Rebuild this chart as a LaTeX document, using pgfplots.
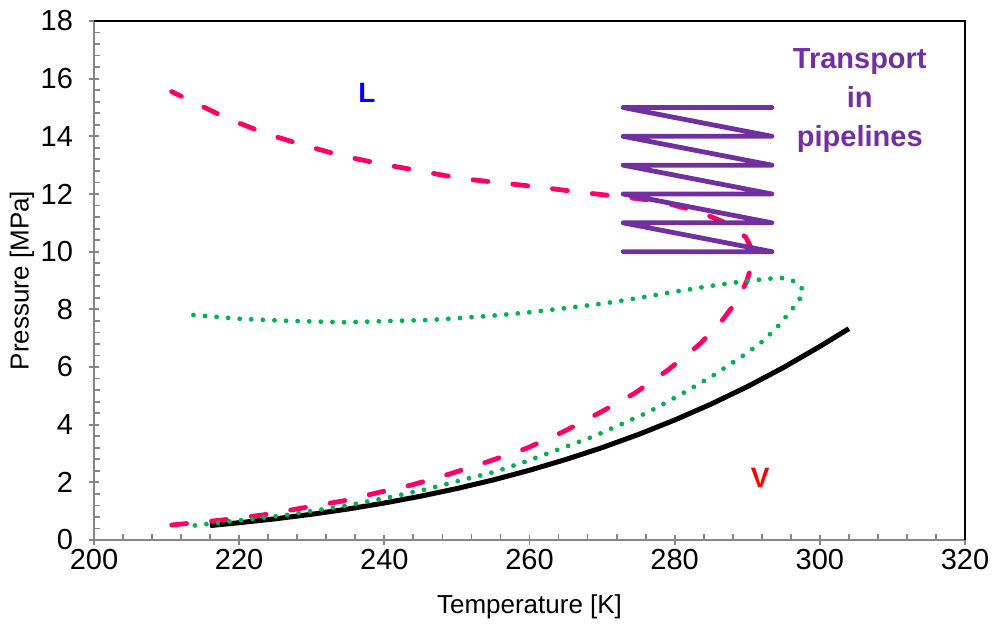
\documentclass[border=0pt]{standalone}
\usepackage{fontspec}
\setmainfont{Liberation Sans}
\usepackage{pgfplots}
\pgfplotsset{compat=1.18}

\definecolor{envred}{HTML}{FF0066}
\definecolor{envgreen}{HTML}{00B050}
\definecolor{pipepurple}{HTML}{7030A0}
\definecolor{axisgray}{HTML}{868686}

% CO2 saturation line
\pgfplotstableread{
T P
216.0 0.50
220 0.600
225 0.735
230 0.893
235 1.075
240 1.283
245 1.519
250 1.785
255 2.083
260 2.419
265 2.792
270 3.203
275 3.659
280 4.161
285 4.712
290 5.318
295 5.984
300 6.713
304.0 7.33
}\satline

% mixture envelope (dashed)
\pgfplotstableread{
T P
210.7 0.52
217.6 0.69
223.3 0.87
228.7 1.11
234.2 1.35
239.4 1.66
243.8 1.91
249.0 2.29
254.3 2.72
259.6 3.18
264.7 3.76
269.5 4.39
274.5 5.09
279.1 5.90
283.3 6.76
286.2 7.50
288.5 8.27
289.9 8.96
290.7 9.60
290.7 10.05
289.8 10.50
287.5 10.95
283.5 11.37
278.0 11.74
272.5 11.91
267.0 12.06
261.4 12.24
255.9 12.39
250.5 12.54
244.9 12.80
239.6 13.04
234.1 13.33
228.8 13.70
223.6 14.10
218.3 14.63
210.7 15.55
}\envA

% mixture envelope (dotted)
\pgfplotstableread{
T P
213.7 7.80
220.2 7.67
226.7 7.60
234.8 7.55
241.2 7.60
246.3 7.63
251.1 7.71
255.9 7.80
260.8 7.92
265.6 8.06
270.4 8.21
275.2 8.40
280.0 8.61
284.9 8.81
289.7 8.98
294.5 9.10
296.1 9.02
297.4 8.80
297.7 8.60
297.1 8.30
296.1 7.98
294.0 7.34
291.7 6.80
289.0 6.32
284.9 5.64
280.7 5.03
276.5 4.45
273.4 4.10
269.0 3.61
264.4 3.18
259.8 2.75
255.3 2.37
250.4 2.06
245.8 1.76
241.0 1.50
234.7 1.19
226.6 0.87
218.6 0.64
213.7 0.50
}\envB

\begin{document}
\begin{tikzpicture}
\begin{axis}[
  scale only axis,
  width=435.5pt, height=259.5pt,
  xmin=200, xmax=320, ymin=0, ymax=18,
  xtick distance=20, ytick distance=2,
  minor x tick num=4, minor y tick num=4,
  axis lines*=left,
  axis line style={axisgray, line width=0.9pt},
  tick style={axisgray, line width=0.9pt},
  tick align=inside,
  major tick length=5pt, minor tick length=3pt,
  major x tick style={yshift=-2.5pt},
  major y tick style={xshift=-2.5pt},
  ticklabel style={font=\fontsize{14.5}{16}\selectfont, text=black},
  xticklabel style={yshift=-1pt},
  yticklabel style={xshift=-7pt},
  /pgf/number format/assume math mode=true,
  xlabel={Temperature [K]}, ylabel={Pressure [MPa]},
  label style={font=\fontsize{13}{15}\selectfont},
  xlabel style={at={(axis description cs:0.5,-0.129)}, anchor=center},
  ylabel style={at={(axis description cs:-0.0827,0.5)}, anchor=center},
  clip=false,
]
\addplot[black, line width=2.5pt] table {\satline};
\addplot[envred, line width=2.4pt, line cap=round, dash pattern=on 7.5pt off 12.5pt] table {\envA};
\addplot[envgreen, line width=2.4pt, line cap=round, dash pattern=on 0pt off 5.8pt] table {\envB};
\addplot[pipepurple, line width=2.4pt, line cap=round, line join=round] coordinates {
(293.4,15) (272.9,15) (293.4,14) (272.9,14) (293.4,13) (272.9,13)
(293.4,12) (272.9,12) (293.4,11) (272.9,11) (293.4,10) (272.9,10)
};
\node[text=blue, font=\bfseries\fontsize{14}{16}\selectfont] at (axis cs:237.6,15.5) {L};
\node[text=red, font=\bfseries\fontsize{14}{16}\selectfont] at (axis cs:291.8,2.15) {V};
\node[text=pipepurple, align=center, font=\bfseries\fontsize{14.5}{19.5}\selectfont] at (axis cs:305.5,15.25) {Transport\\in\\pipelines};
\draw[black, line width=0.6pt] (rel axis cs:0,1) -- (rel axis cs:1,1) -- (rel axis cs:1,0);
\coordinate (bl) at (rel axis cs:0,0);
\coordinate (tr) at (rel axis cs:1,1);
\end{axis}
\pgfresetboundingbox
\path ([xshift=-47pt,yshift=-43.5pt]bl) rectangle ([xshift=15pt,yshift=10.5pt]tr);
\end{tikzpicture}
\end{document}
